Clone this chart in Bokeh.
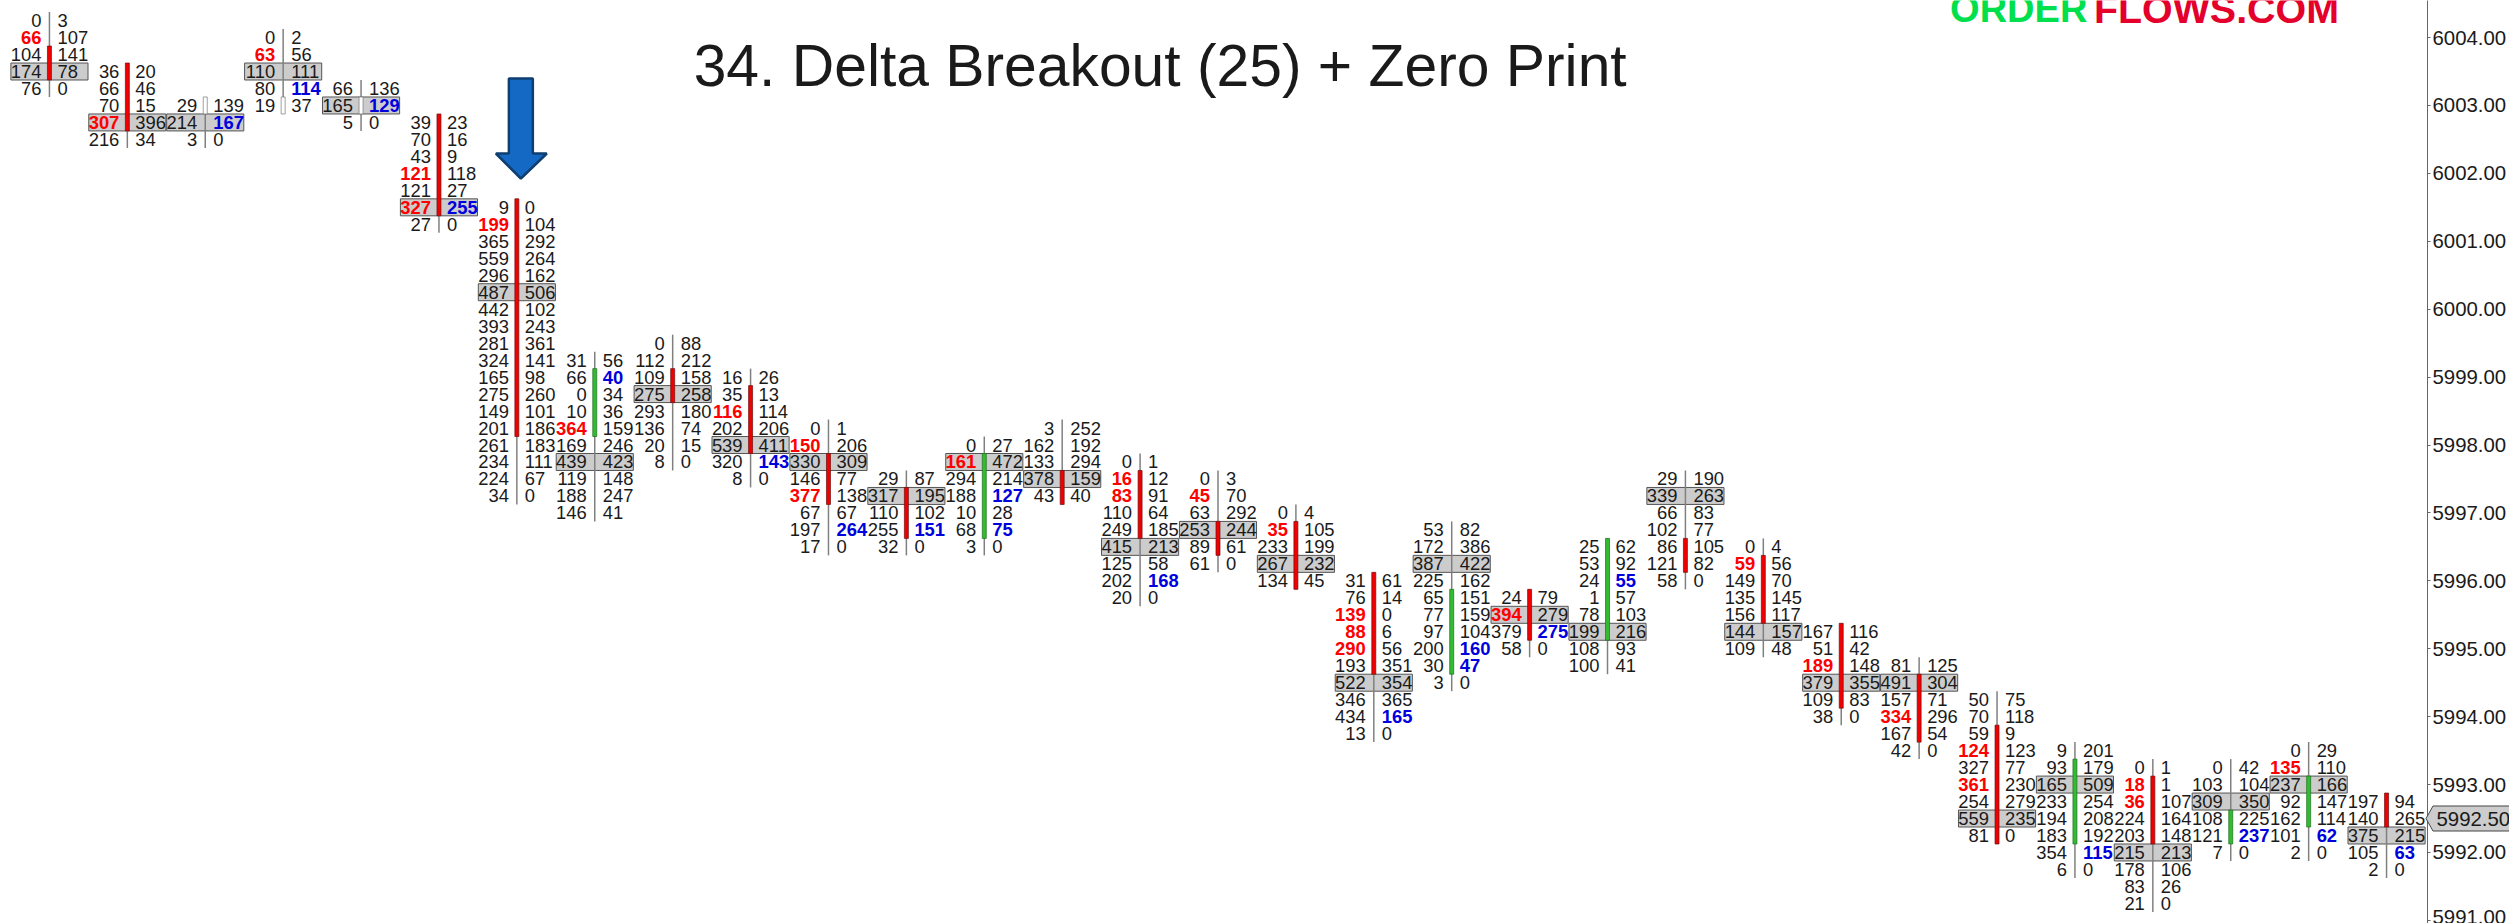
from bokeh.plotting import figure
from bokeh.embed import file_html
from bokeh.resources import INLINE
from bokeh.layouts import column
from bokeh.models import ColumnDataSource, FixedTicker, PrintfTickFormatter, Div
from bokeh.core.properties import value

TITLE = "34. Delta Breakout (25) + Zero Print"
LOGO_GREEN = "ORDER"
LOGO_RED = "FLOWS.COM"
PRICE_TICKS = [6004, 6003, 6002, 6001, 6000, 5999, 5998, 5997, 5996, 5995, 5994, 5993, 5992, 5991]
LAST_PRICE = 5992.50

top_prices = [6004.25, 6003.5, 6003.0, 6004.0, 6003.25, 6002.75, 6001.5, 5999.25, 5999.5, 5999.0,
              5998.25, 5997.5, 5998.0, 5998.25, 5997.75, 5997.5, 5997.0, 5996.0, 5996.75, 5995.75,
              5996.5, 5997.5, 5996.5, 5995.25, 5994.75, 5994.25, 5993.5, 5993.25, 5993.25, 5993.5, 5992.75]

bids = [
    [0, 66, 104, 174, 76],
    [36, 66, 70, 307, 216],
    [29, 214, 3],
    [0, 63, 110, 80, 19],
    [66, 165, 5],
    [39, 70, 43, 121, 121, 327, 27],
    [9, 199, 365, 559, 296, 487, 442, 393, 281, 324, 165, 275, 149, 201, 261, 234, 224, 34],
    [31, 66, 0, 10, 364, 169, 439, 119, 188, 146],
    [0, 112, 109, 275, 293, 136, 20, 8],
    [16, 35, 116, 202, 539, 320, 8],
    [0, 150, 330, 146, 377, 67, 197, 17],
    [29, 317, 110, 255, 32],
    [0, 161, 294, 188, 10, 68, 3],
    [3, 162, 133, 378, 43],
    [0, 16, 83, 110, 249, 415, 125, 202, 20],
    [0, 45, 63, 253, 89, 61],
    [0, 35, 233, 267, 134],
    [31, 76, 139, 88, 290, 193, 522, 346, 434, 13],
    [53, 172, 387, 225, 65, 77, 97, 200, 30, 3],
    [24, 394, 379, 58],
    [25, 53, 24, 1, 78, 199, 108, 100],
    [29, 339, 66, 102, 86, 121, 58],
    [0, 59, 149, 135, 156, 144, 109],
    [167, 51, 189, 379, 109, 38],
    [81, 491, 157, 334, 167, 42],
    [50, 70, 59, 124, 327, 361, 254, 559, 81],
    [9, 93, 165, 233, 194, 183, 354, 6],
    [0, 18, 36, 224, 203, 215, 178, 83, 21],
    [0, 103, 309, 108, 121, 7],
    [0, 135, 237, 92, 162, 101, 2],
    [197, 140, 375, 105, 2],
]

asks = [
    [3, 107, 141, 78, 0],
    [20, 46, 15, 396, 34],
    [139, 167, 0],
    [2, 56, 111, 114, 37],
    [136, 129, 0],
    [23, 16, 9, 118, 27, 255, 0],
    [0, 104, 292, 264, 162, 506, 102, 243, 361, 141, 98, 260, 101, 186, 183, 111, 67, 0],
    [56, 40, 34, 36, 159, 246, 423, 148, 247, 41],
    [88, 212, 158, 258, 180, 74, 15, 0],
    [26, 13, 114, 206, 411, 143, 0],
    [1, 206, 309, 77, 138, 67, 264, 0],
    [87, 195, 102, 151, 0],
    [27, 472, 214, 127, 28, 75, 0],
    [252, 192, 294, 159, 40],
    [1, 12, 91, 64, 185, 213, 58, 168, 0],
    [3, 70, 292, 244, 61, 0],
    [4, 105, 199, 232, 45],
    [61, 14, 0, 6, 56, 351, 354, 365, 165, 0],
    [82, 386, 422, 162, 151, 159, 104, 160, 47, 0],
    [79, 279, 275, 0],
    [62, 92, 55, 57, 103, 216, 93, 41],
    [190, 263, 83, 77, 105, 82, 0],
    [4, 56, 70, 145, 117, 157, 48],
    [116, 42, 148, 355, 83, 0],
    [125, 304, 71, 296, 54, 0],
    [75, 118, 9, 123, 77, 230, 279, 235, 0],
    [201, 179, 509, 254, 208, 192, 115, 0],
    [1, 1, 107, 164, 148, 213, 106, 26, 0],
    [42, 104, 350, 225, 237, 0],
    [29, 110, 166, 147, 114, 62, 0],
    [94, 265, 215, 63, 0],
]

# row index of the highest-volume level in each bar
poc_rows = [3, 3, 1, 2, 1, 5, 5, 6, 3, 4, 2, 1, 1, 3, 5, 3, 3, 6, 2, 1, 5, 1, 5, 3, 1, 7, 2, 5, 2, 2, 2]
# first and last row of each candle body
body_first = [2, 0, 0, 4, 1, 0, 0, 1, 2, 1, 2, 1, 1, 3, 1, 3, 1, 0, 4, 0, 0, 4, 1, 0, 1, 2, 1, 1, 3, 2, 0]
body_last = [3, 3, 0, 4, 1, 5, 13, 4, 3, 4, 4, 3, 5, 4, 4, 4, 4, 5, 8, 2, 5, 5, 4, 4, 4, 8, 5, 4, 4, 4, 1]
# d = down, u = up, n = unchanged
body_kind = list("ddnnndd" "udddd" "uddddd" "udu" "ddddd" "uduu" "d")
# highlighted rows per bar
bid_red_rows = {0: [1], 1: [3], 3: [1], 5: [3, 5], 6: [1], 7: [4], 9: [2], 10: [1, 4], 12: [1], 14: [1, 2],
                15: [1], 16: [1], 17: [2, 3, 4], 19: [1], 22: [1], 23: [2], 24: [3], 25: [3, 5],
                27: [1, 2], 29: [1]}
ask_blue_rows = {2: [1], 3: [3], 4: [1], 5: [5], 7: [1], 9: [5], 10: [6], 11: [3], 12: [3, 5], 14: [7],
                 17: [8], 18: [7, 8], 19: [2], 20: [2], 26: [6], 28: [4], 29: [5], 30: [3]}

# scale of the reference picture
X0, DX = 49.0, 78.0
PY, PP, SY = 835.0, 5992.25, 67.91
AXIS_X = 2430
WIN_W, WIN_H = 2509, 923


def xd(px):
    return (px - X0) / DX


def yd(py):
    return PP + (PY - py) / SY


p = figure(width=WIN_W, height=WIN_H, output_backend="svg", toolbar_location=None,
           x_range=(xd(0), xd(AXIS_X)), y_range=(yd(WIN_H), yd(0)),
           x_axis_location=None, y_axis_location="right",
           min_border=0, min_border_left=0, min_border_right=WIN_W - AXIS_X, min_border_top=0, min_border_bottom=0,
           outline_line_color=None, background_fill_color="white", border_fill_color="white")
p.grid.visible = False
ax = p.yaxis[0]
ax.ticker = FixedTicker(ticks=PRICE_TICKS)
ax.formatter = PrintfTickFormatter(format="%.2f")
ax.minor_tick_line_color = None
ax.major_tick_in = 0
ax.major_tick_out = 3
ax.major_label_standoff = 2
ax.axis_line_color = "#666666"
ax.major_tick_line_color = "#666666"
ax.major_label_text_font = "Liberation Sans"
ax.major_label_text_font_size = "20.4px"
ax.major_label_text_color = "#1a1a1a"

R = 0.125
poc, wick, body = [], [], []
bx, by, bt, bc, bs = [], [], [], [], []
ax_, ay, at, ac, as_ = [], [], [], [], []
for i, (top, bl, al) in enumerate(zip(top_prices, bids, asks)):
    n = len(bl)
    pr = [top - 0.25 * k for k in range(n)]
    poc.append((i - 0.495, i + 0.495, pr[poc_rows[i]] - R, pr[poc_rows[i]] + R))
    wick.append((i, top + R, pr[-1] - R))
    kind = body_kind[i]
    body.append((i, pr[body_first[i]] + R, pr[body_last[i]] - R,
                 {"d": "#f00000", "u": "#33bb33", "n": "#ffffff"}[kind],
                 {"d": "#6b1010", "u": "#1d6e1d", "n": "#777777"}[kind]))
    for k in range(n):
        red = k in bid_red_rows.get(i, [])
        blue = k in ask_blue_rows.get(i, [])
        bx.append(i); by.append(pr[k]); bt.append(str(bl[k]))
        bc.append("#ff0000" if red else "#1a1a1a"); bs.append("bold" if red else "normal")
        ax_.append(i); ay.append(pr[k]); at.append(str(al[k]))
        ac.append("#0000dd" if blue else "#1a1a1a"); as_.append("bold" if blue else "normal")

p.quad(left=[a[0] for a in poc], right=[a[1] for a in poc], bottom=[a[2] for a in poc], top=[a[3] for a in poc],
       fill_color="#cccccc", line_color="#555555", line_width=1)
p.segment(x0=[w[0] for w in wick], x1=[w[0] for w in wick], y0=[w[1] for w in wick], y1=[w[2] for w in wick],
          line_color="#808080", line_width=1.5)
p.vbar(x=[b[0] for b in body], width=4 / DX, top=[b[1] for b in body], bottom=[b[2] for b in body],
       fill_color=[b[3] for b in body], line_color=[b[4] for b in body], line_width=0.7)

FS = "18.4px"
p.text(x="x", y="y", text="t", text_color="c", text_font_style="s", source=ColumnDataSource(dict(x=bx, y=by, t=bt, c=bc, s=bs)),
       x_offset=-8, text_align="right", text_baseline="middle",
       text_font=value("Liberation Sans"), text_font_size=value(FS))
p.text(x="x", y="y", text="t", text_color="c", text_font_style="s", source=ColumnDataSource(dict(x=ax_, y=ay, t=at, c=ac, s=as_)),
       x_offset=8, text_align="left", text_baseline="middle",
       text_font=value("Liberation Sans"), text_font_size=value(FS))

# title and logo
p.text(x=[xd(694)], y=[yd(65)], text=[TITLE], text_align="left", text_baseline="middle", text_color="#1a1a1a",
       text_font=value("Liberation Sans"), text_font_size=value("58.8px"))
p.text(x=[xd(1952)], y=[yd(8)], text=[LOGO_GREEN], text_align="left", text_baseline="alphabetic", text_color="#00e04c",
       text_font=value("Liberation Sans"), text_font_style="bold", text_font_size=value("38px"))
p.text(x=[xd(2096)], y=[yd(8)], text=[LOGO_RED], text_align="left", text_baseline="alphabetic", text_color="#e4002b",
       text_font=value("Liberation Sans"), text_font_style="bold", text_font_size=value("39.4px"))

# signal arrow
ax_px = [509, 533, 533, 547, 521, 496, 509]
ay_px = [78, 78, 153, 153, 178, 153, 153]
p.patch(x=[xd(v) for v in ax_px], y=[yd(v) for v in ay_px], fill_color="#1469c4", line_color="#0f3f70", line_width=2.5)

# last price tag on the axis, outside the plotting frame
ly = PY + SY * (PP - LAST_PRICE)
TAG_LEFT, TAG_H, TAG_W = 2425, 27, 90
tag = Div(text=f'<svg width="{TAG_W}" height="{TAG_H}" style="display:block;overflow:hidden">'
               f'<polygon points="1,13.5 8,1 {TAG_W},1 {TAG_W},{TAG_H - 1} 8,{TAG_H - 1}" fill="#cccccc" stroke="#444444" stroke-width="1"/>'
               f'<text x="11.5" y="20.8" font-family="Liberation Sans" font-size="20.4px" fill="#1a1a1a">{LAST_PRICE:.2f}</text></svg>',
          width=TAG_W, height=TAG_H, margin=0,
          styles={"position": "absolute", "left": f"{TAG_LEFT}px", "top": f"{ly - TAG_H / 2:.1f}px", "z-index": "10"})

open("out.html", "w").write(file_html(column(p, tag, spacing=0, margin=0), INLINE))
